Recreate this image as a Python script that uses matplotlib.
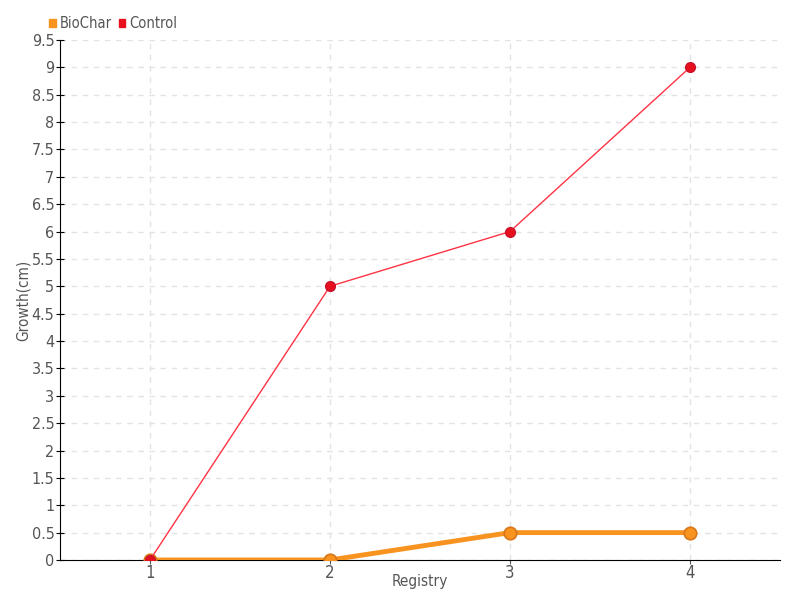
import matplotlib
matplotlib.use("Agg")
import matplotlib.pyplot as plt

plt.rcParams['font.family'] = ['DejaVu Sans']
plt.rcParams['font.stretch'] = 'condensed'

registry = [1, 2, 3, 4]
biochar = [0, 0, 0.5, 0.5]
control = [0, 5, 6, 9]
yticks = [i * 0.5 for i in range(20)]
ytick_labels = ["0", "0.5", "1", "1.5", "2", "2.5", "3", "3.5", "4", "4.5",
                "5", "5.5", "6", "6.5", "7", "7.5", "8", "8.5", "9", "9.5"]

fig = plt.figure(figsize=(8, 6), dpi=100)
ax = fig.add_axes([0.075, 0.0667, 0.9, 0.8667])

ax.plot(registry, biochar, color="#f7931e", lw=3.5, marker="o", ms=9,
        mfc="#f7931e", mec="#d9761a", mew=1.2, zorder=3, label="BioChar")
ax.plot(registry, control, color="#ff3344", lw=1, marker="o", ms=7,
        mfc="#e8101e", mec="#c8102a", mew=1, zorder=4, label="Control")

ax.set_xlim(0.5, 4.5)
ax.set_ylim(0, 9.5)
ax.set_xticks(registry)
ax.set_yticks(yticks)
ax.set_yticklabels(ytick_labels)
ax.grid(True, color="#e3e3e3", ls=(0, (4, 4)), lw=1)
ax.set_axisbelow(True)
for s in ["top", "right"]:
    ax.spines[s].set_visible(False)
ax.spines["left"].set_color("black")
ax.spines["bottom"].set_color("black")
ax.tick_params(axis="y", direction="inout", length=6, colors="black", labelcolor="#555555", labelsize=11.5, pad=1)
ax.tick_params(axis="x", direction="out", length=3, color="#555555", labelcolor="#555555", labelsize=12, pad=0)
ax.set_xlabel("Registry", color="#555555", fontsize=11)
ax.set_ylabel("Growth(cm)", color="#555555", fontsize=11)
ax.xaxis.set_label_coords(0.5, -0.027)
ax.yaxis.set_label_coords(-0.04, 0.5)

ax.legend(loc="center left", bbox_to_anchor=(-0.015, 1.031), ncol=2, frameon=False,
          handlelength=0.45, handleheight=0.45, handletextpad=0.25, columnspacing=0.5,
          fontsize=10.5, labelcolor="#555555", borderpad=0, borderaxespad=0,
          handles=[plt.Rectangle((0, 0), 1, 1, color="#f7931e", label="BioChar"),
                   plt.Rectangle((0, 0), 1, 1, color="#e8101e", label="Control")])

fig.savefig("out.png", dpi=100)
